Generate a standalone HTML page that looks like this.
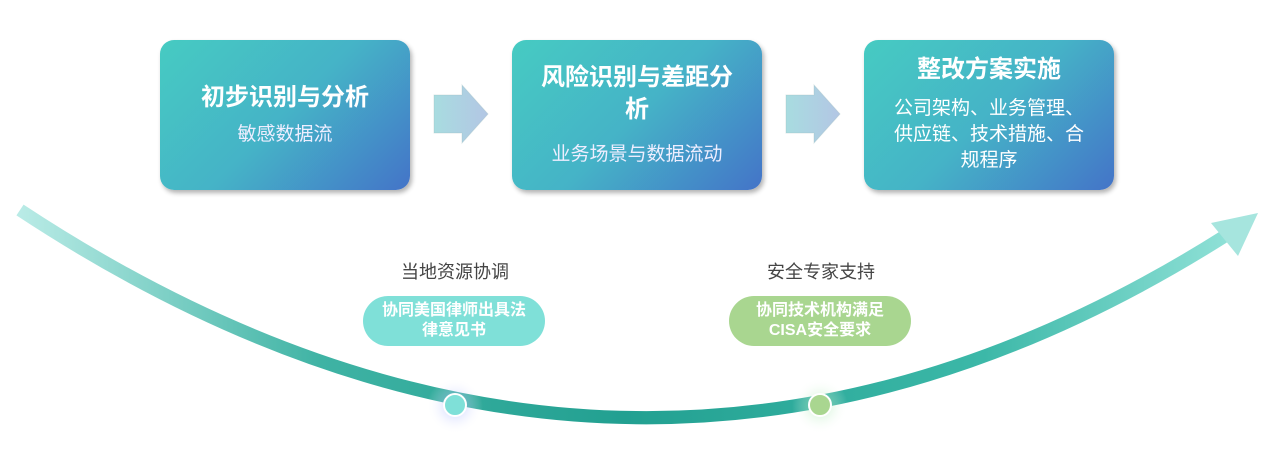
<!DOCTYPE html>
<html><head><meta charset="utf-8"><style>
body{margin:0;width:1280px;height:462px;background:#fff;position:relative;overflow:hidden;font-family:"Liberation Sans","Noto Sans CJK SC",sans-serif}
.box{position:absolute;top:40px;width:250px;height:150px;border-radius:14px;background:linear-gradient(135deg,#46cbc2 0%,#45b3c7 50%,#4474c8 100%);box-shadow:2px 3px 5px rgba(0,0,0,.3);color:#fff;text-align:center;display:flex;flex-direction:column;justify-content:center}
.t{font-size:24px;font-weight:bold;line-height:32px}
.s{font-size:19px;line-height:26px;margin-top:8px;color:#eef}
.lab{position:absolute;font-size:18px;color:#444;width:200px;text-align:center}
.pill{position:absolute;border-radius:26px;color:#fff;font-weight:bold;font-size:16px;line-height:20px;text-align:center;display:flex;align-items:center;justify-content:center}
</style></head><body>
<svg width="1280" height="462" style="position:absolute;left:0;top:0">
<defs>
<linearGradient id="g" x1="0" x2="1" y1="0" y2="0">
<stop offset="0" stop-color="#b9ebe6"/><stop offset="0.25" stop-color="#3fb3a4"/><stop offset="0.5" stop-color="#22a091"/><stop offset="0.8" stop-color="#3cb8a8"/><stop offset="1" stop-color="#8ee0d6"/></linearGradient>
<linearGradient id="ar" x1="0" x2="1" y1="0" y2="0"><stop offset="0" stop-color="#a8dce0"/><stop offset="1" stop-color="#b3c6e4"/></linearGradient>
<radialGradient id="gb"><stop offset="0" stop-color="#9aa8ff" stop-opacity=".6"/><stop offset="1" stop-color="#fff" stop-opacity="0"/></radialGradient>
<radialGradient id="gg"><stop offset="0" stop-color="#9fe6a8" stop-opacity=".6"/><stop offset="1" stop-color="#fff" stop-opacity="0"/></radialGradient>
</defs>
<path d="M20,210 Q630,612 1225,236" fill="none" stroke="url(#g)" stroke-width="13"/>
<polygon points="1258,213 1211,223 1238,256" fill="#a6e5de"/>
<polygon points="434,95 462,95 462,85 488,114 462,143 462,133 434,133" fill="url(#ar)" stroke="#9bb" stroke-opacity=".3"/>
<polygon points="786,95 814,95 814,85 840,114 814,143 814,133 786,133" fill="url(#ar)" stroke="#9bb" stroke-opacity=".3"/>
<circle cx="455" cy="406" r="28" fill="url(#gb)"/>
<circle cx="820" cy="406" r="28" fill="url(#gg)"/>
<circle cx="455" cy="405" r="11" fill="#7fe0d8" stroke="#fff" stroke-width="2"/>
<circle cx="820" cy="405" r="11" fill="#a9d690" stroke="#fff" stroke-width="2"/>
</svg>
<div class="box" style="left:160px"><div class="t">初步识别与分析</div><div class="s">敏感数据流</div></div>
<div class="box" style="left:512px"><div class="t" style="padding:0 12px">风险识别与差距分<br>析</div><div class="s" style="margin-top:16px">业务场景与数据流动</div></div>
<div class="box" style="left:864px;justify-content:flex-start;padding-top:14px;height:136px"><div class="t">整改方案实施</div><div class="s" style="margin-top:10px;color:#fff;white-space:nowrap">公司架构、业务管理、<br>供应链、技术措施、合<br>规程序</div></div>
<div class="lab" style="left:355px;top:258px">当地资源协调</div>
<div class="lab" style="left:721px;top:258px">安全专家支持</div>
<div class="pill" style="left:363px;top:296px;width:182px;height:50px;background:#7fe0d8">协同美国律师出具法<br>律意见书</div>
<div class="pill" style="left:729px;top:296px;width:182px;height:50px;background:#a9d690">协同技术机构满足<br>CISA安全要求</div>
</body></html>
